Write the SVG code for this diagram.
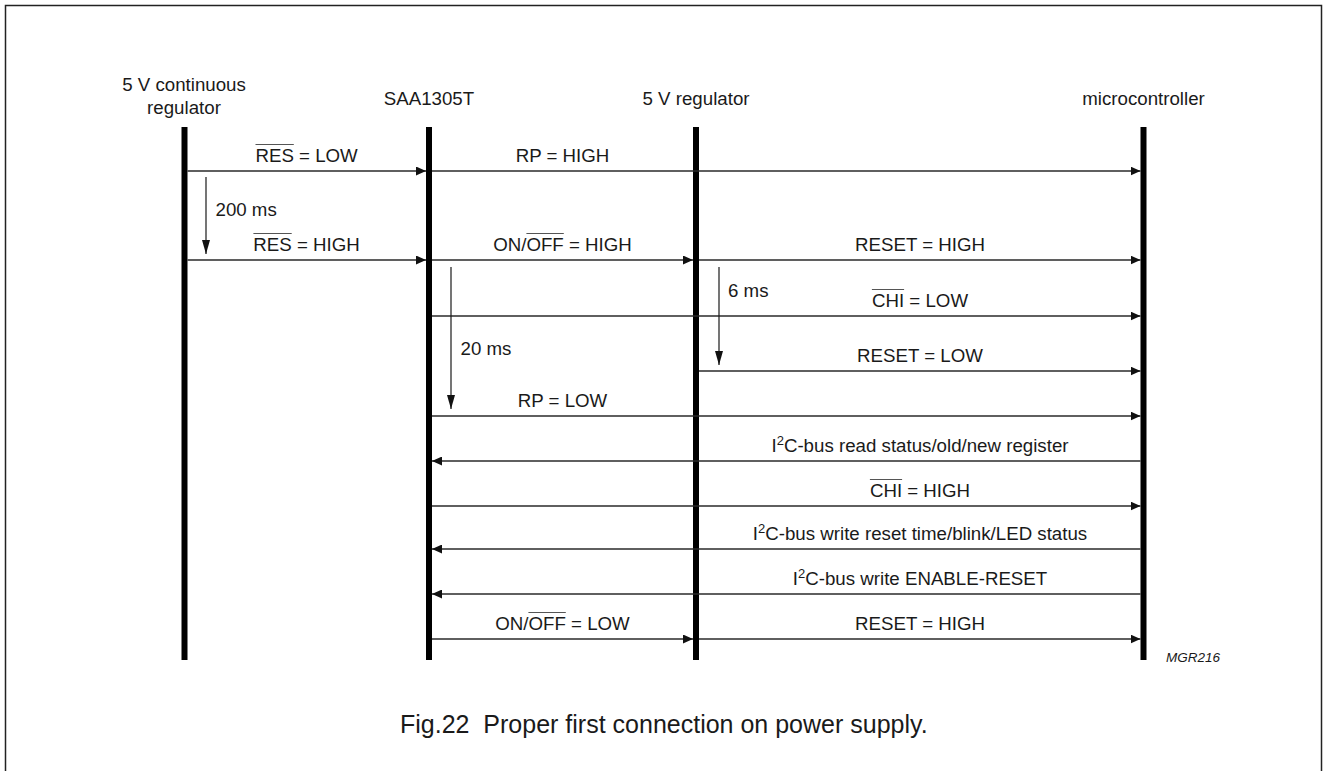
<svg xmlns="http://www.w3.org/2000/svg" width="1327" height="771" viewBox="0 0 1327 771">
<defs>
<marker id="ah" viewBox="0 0 10 9" refX="10" refY="4.5" markerWidth="10" markerHeight="9" markerUnits="userSpaceOnUse" orient="auto"><path d="M0,0 L10,4.5 L0,9 Z" fill="#111"/></marker>
<marker id="dh" viewBox="0 0 8 14" refX="4" refY="14" markerWidth="8" markerHeight="14" markerUnits="userSpaceOnUse" orient="0"><path d="M0,0 L4,14 L8,0 Z" fill="#111"/></marker>
</defs>
<style>
text{font-family:"Liberation Sans",Arial,Helvetica,sans-serif;fill:#1a1a1a}
.lbl{font-size:18.7px;text-anchor:middle}
.dl{font-size:18.7px}
.life{fill:#000}
.msg{stroke:#2a2a2a;stroke-width:1.4;fill:none;marker-end:url(#ah)}
.dly{stroke:#1a1a1a;stroke-width:1.2;fill:none;marker-end:url(#dh)}
.ov{stroke:#555;stroke-width:1.1}
.title{font-size:25px}
.id{font-size:13.5px;font-style:italic}
</style>
<rect x="5.5" y="5.5" width="1316" height="820" fill="none" stroke="#222" stroke-width="1.5"/>

<g id="node-continuous-regulator">
<rect class="life" x="181.5" y="127" width="6" height="533"/>
<text class="lbl" x="184" y="91">5 V continuous</text>
<text class="lbl" x="184" y="113.5">regulator</text>
</g>
<g id="node-saa1305t">
<rect class="life" x="426" y="127" width="6" height="533"/>
<text class="lbl" x="429" y="105">SAA1305T</text>
</g>
<g id="node-5v-regulator">
<rect class="life" x="693" y="127" width="6" height="533"/>
<text class="lbl" x="696" y="105">5 V regulator</text>
</g>
<g id="node-microcontroller">
<rect class="life" x="1140.5" y="127" width="6" height="533"/>
<text class="lbl" x="1143.5" y="104.5">microcontroller</text>
</g>

<g id="connectors">
<!-- row 1 -->
<line class="msg" x1="187.5" y1="171" x2="426" y2="171"/>
<line class="msg" x1="432" y1="171" x2="1140.5" y2="171"/>
<!-- row 2 -->
<line class="msg" x1="187.5" y1="260" x2="426" y2="260"/>
<line class="msg" x1="432" y1="260" x2="693" y2="260"/>
<line class="msg" x1="699" y1="260" x2="1140.5" y2="260"/>
<!-- row 3 -->
<line class="msg" x1="432" y1="316" x2="1140.5" y2="316"/>
<!-- row 4 -->
<line class="msg" x1="699" y1="371" x2="1140.5" y2="371"/>
<!-- row 5 -->
<line class="msg" x1="432" y1="416" x2="1140.5" y2="416"/>
<!-- row 6 -->
<line class="msg" x1="1140.5" y1="461" x2="432" y2="461"/>
<!-- row 7 -->
<line class="msg" x1="432" y1="506" x2="1140.5" y2="506"/>
<!-- row 8 -->
<line class="msg" x1="1140.5" y1="549" x2="432" y2="549"/>
<!-- row 9 -->
<line class="msg" x1="1140.5" y1="594" x2="432" y2="594"/>
<!-- row 10 -->
<line class="msg" x1="432" y1="639" x2="693" y2="639"/>
<line class="msg" x1="699" y1="639" x2="1140.5" y2="639"/>
<!-- delays -->
<line class="dly" x1="206" y1="177" x2="206" y2="254"/>
<line class="dly" x1="451" y1="267" x2="451" y2="409"/>
<line class="dly" x1="719" y1="267" x2="719" y2="365"/>
</g>

<g id="labels">
<text class="lbl" x="306.6" y="162">RES = LOW</text>
<line class="ov" x1="255.5" y1="144.5" x2="293.8" y2="144.5"/>
<text class="lbl" x="562.5" y="162">RP = HIGH</text>

<text class="lbl" x="306.6" y="251">RES = HIGH</text>
<line class="ov" x1="253.4" y1="233.5" x2="291.7" y2="233.5"/>
<text class="lbl" x="562.5" y="251">ON/OFF = HIGH</text>
<line class="ov" x1="526.4" y1="233.5" x2="563.8" y2="233.5"/>
<text class="lbl" x="920" y="251">RESET = HIGH</text>

<text class="lbl" x="920" y="307">CHI = LOW</text>
<line class="ov" x1="871.9" y1="289.5" x2="904.1" y2="289.5"/>

<text class="lbl" x="920" y="362">RESET = LOW</text>
<text class="lbl" x="562.5" y="407">RP = LOW</text>

<text class="lbl" x="920" y="452">I<tspan font-size="13" dy="-7">2</tspan><tspan dy="7">C-bus read status/old/new register</tspan></text>
<text class="lbl" x="920" y="497">CHI = HIGH</text>
<line class="ov" x1="869.9" y1="479.5" x2="902.1" y2="479.5"/>
<text class="lbl" x="920" y="540">I<tspan font-size="13" dy="-7">2</tspan><tspan dy="7">C-bus write reset time/blink/LED status</tspan></text>
<text class="lbl" x="920" y="585">I<tspan font-size="13" dy="-7">2</tspan><tspan dy="7">C-bus write ENABLE-RESET</tspan></text>

<text class="lbl" x="562.5" y="630">ON/OFF = LOW</text>
<line class="ov" x1="528.4" y1="612.5" x2="565.8" y2="612.5"/>
<text class="lbl" x="920" y="630">RESET = HIGH</text>

<text class="dl" x="215.5" y="215.5">200 ms</text>
<text class="dl" x="460.5" y="355">20 ms</text>
<text class="dl" x="728" y="297">6 ms</text>

<text class="id" x="1166" y="662">MGR216</text>
<text class="title" x="400" y="733">Fig.22&#160; Proper first connection on power supply.</text>
</g>
</svg>
